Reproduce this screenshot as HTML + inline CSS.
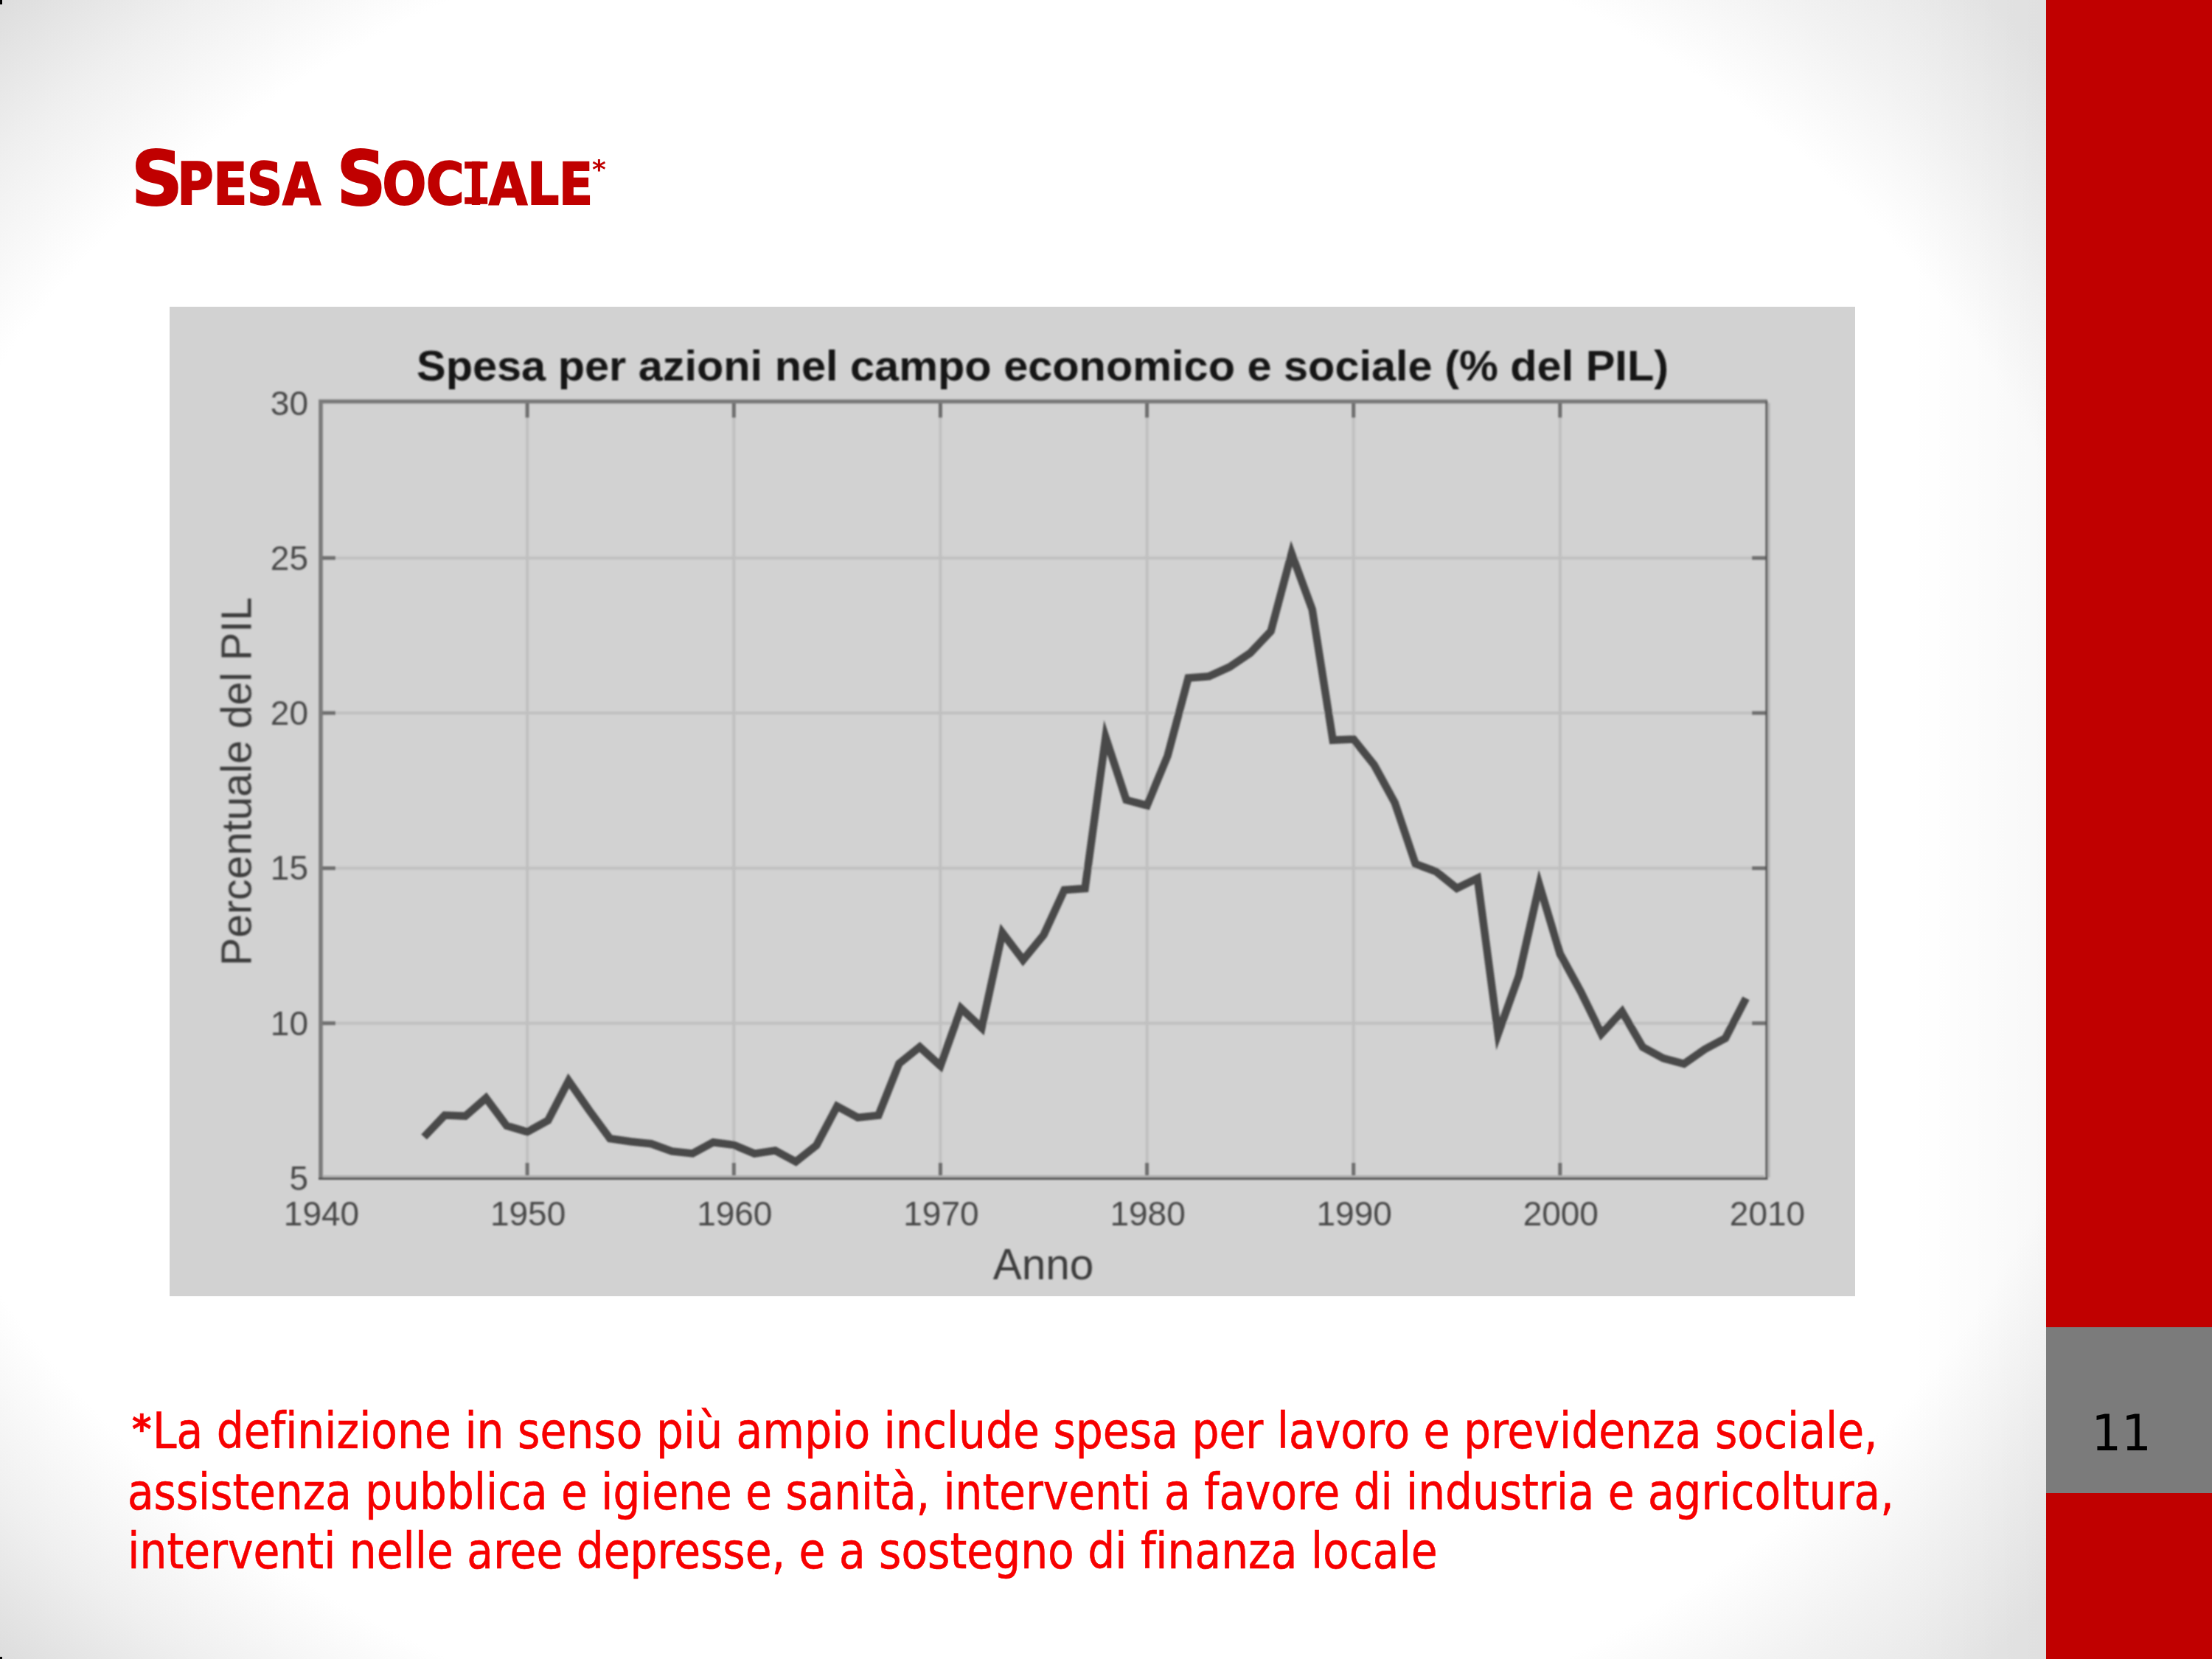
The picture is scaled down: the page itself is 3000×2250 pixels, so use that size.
<!DOCTYPE html>
<html><head><meta charset="utf-8"><title>Spesa sociale</title>
<style>
html,body{margin:0;padding:0}
body{width:3000px;height:2250px;position:relative;overflow:hidden;
background:#fff;}
.bgl{position:absolute;left:0;top:0;width:1388px;height:2250px;background:radial-gradient(ellipse 1962px 1591px at 1387.5px 1125px, #ffffff 81%, #efefef 91%, #dddddd 100%);}
.bgr{position:absolute;left:1387px;top:0;width:1388px;height:2250px;background:radial-gradient(ellipse 1850px 1591px at 0.5px 1125px, #ffffff 81%, #f2f2f2 90%, #e6e6e6 100%);}
.shd{position:absolute;left:2590px;top:0;width:185px;height:2250px;background:linear-gradient(to right, rgba(0,0,0,0), rgba(0,0,0,0.028));}
svg{position:absolute;left:0;top:0}
</style></head><body>
<div class="bgl"></div><div class="bgr"></div><div class="shd"></div>
<svg width="3000" height="2250" viewBox="0 0 3000 2250">
<defs><filter id="soft" x="-2%" y="-2%" width="104%" height="104%"><feGaussianBlur stdDeviation="0.8"/></filter></defs>
<rect x="230" y="416" width="2286" height="1342" fill="#d2d2d2"/>
<g filter="url(#soft)">
<path d="M715.1 546.5V1597M995.3 546.5V1597M1275.4 546.5V1597M1555.6 546.5V1597M1835.7 546.5V1597M2115.8 546.5V1597M435 1387.7H2396M435 1177.4H2396M435 967.1H2396M435 756.8H2396" stroke="#c0c0c0" stroke-width="4" fill="none"/>
<path d="M715.1 1597v-20M715.1 546.5v20M995.3 1597v-20M995.3 546.5v20M1275.4 1597v-20M1275.4 546.5v20M1555.6 1597v-20M1555.6 546.5v20M1835.7 1597v-20M1835.7 546.5v20M2115.8 1597v-20M2115.8 546.5v20M435 1387.7h20M2396 1387.7h-20M435 1177.4h20M2396 1177.4h-20M435 967.1h20M2396 967.1h-20M435 756.8h20M2396 756.8h-20" stroke="#6e6e6e" stroke-width="5" fill="none"/>
<path d="M435 1599V544.5H2397" stroke="#7a7a7a" stroke-width="5.5" fill="none"/>
<path d="M432 1598.5H2396V544.5" stroke="#545454" stroke-width="3" fill="none"/>
<path d="M438 1595.5H2393" stroke="#adadad" stroke-width="3" fill="none"/>
<path d="M2399 546.5V1597" stroke="#b0b0b0" stroke-width="3" fill="none"/>
<polyline points="575.1,1542.0 603.1,1512.6 631.1,1513.6 659.1,1489.2 687.1,1526.8 715.1,1535.0 743.2,1519.7 771.2,1465.8 799.2,1506.0 827.2,1544.1 855.2,1548.2 883.2,1551.2 911.2,1561.4 939.3,1564.4 967.3,1549.2 995.3,1552.8 1023.3,1564.6 1051.3,1560.4 1079.3,1575.6 1107.3,1553.3 1135.3,1500.4 1163.4,1515.6 1191.4,1512.6 1219.4,1442.4 1247.4,1420.0 1275.4,1445.5 1303.4,1367.5 1331.4,1394.0 1359.5,1265.0 1387.5,1302.0 1415.5,1268.0 1443.5,1207.0 1471.5,1205.0 1499.5,1000.0 1527.5,1085.0 1555.6,1092.4 1583.6,1024.9 1611.6,919.4 1639.6,917.3 1667.6,904.6 1695.6,885.7 1723.6,856.1 1751.7,750.6 1779.7,826.6 1807.7,1003.8 1835.7,1002.5 1863.7,1037.4 1891.7,1088.7 1919.7,1171.6 1947.8,1182.1 1975.8,1204.7 2003.8,1191.1 2031.8,1402.1 2059.8,1323.8 2087.8,1200.2 2115.8,1293.6 2143.9,1344.9 2171.9,1402.1 2199.9,1372.0 2227.9,1420.2 2255.9,1435.3 2283.9,1442.9 2311.9,1423.2 2340.0,1408.2 2368.0,1353.9" fill="none" stroke="#494949" stroke-width="10.5" stroke-linejoin="miter" stroke-miterlimit="10"/>
<g font-family="Liberation Sans, sans-serif" font-size="46" fill="#4a4a4a"><text x="418" y="1614.0" text-anchor="end">5</text><text x="418" y="1403.7" text-anchor="end">10</text><text x="418" y="1193.4" text-anchor="end">15</text><text x="418" y="983.1" text-anchor="end">20</text><text x="418" y="772.8" text-anchor="end">25</text><text x="418" y="562.5" text-anchor="end">30</text><text x="436.0" y="1662" text-anchor="middle">1940</text><text x="716.1" y="1662" text-anchor="middle">1950</text><text x="996.3" y="1662" text-anchor="middle">1960</text><text x="1276.4" y="1662" text-anchor="middle">1970</text><text x="1556.6" y="1662" text-anchor="middle">1980</text><text x="1836.7" y="1662" text-anchor="middle">1990</text><text x="2116.8" y="1662" text-anchor="middle">2000</text><text x="2397.0" y="1662" text-anchor="middle">2010</text></g>
<text x="1414" y="516" text-anchor="middle" font-family="Liberation Sans, sans-serif" font-weight="bold" font-size="57" fill="#141414" stroke="#141414" stroke-width="0" textLength="1698" lengthAdjust="spacingAndGlyphs">Spesa per azioni nel campo economico e sociale (% del PIL)</text>
<text x="1415" y="1735" text-anchor="middle" font-family="Liberation Sans, sans-serif" font-size="58.5" fill="#3c3c3c">Anno</text>
<text transform="translate(340.5 1060) rotate(-90)" text-anchor="middle" font-family="Liberation Sans, sans-serif" font-size="57.3" fill="#3c3c3c">Percentuale del PIL</text>
</g>
<g fill="#c00000" stroke="#c00000" stroke-width="2.0"><text font-weight="bold"><tspan x="178.0" y="277.5" font-family="DejaVu Sans, sans-serif" font-size="101.7" textLength="69.85" lengthAdjust="spacingAndGlyphs">S</tspan><tspan x="240.4" y="276.5" font-family="DejaVu Sans Condensed, DejaVu Sans, sans-serif" font-size="111.43" font-variant="small-caps" textLength="194.66" lengthAdjust="spacingAndGlyphs">pesa</tspan> <tspan x="456.8" y="277.5" font-family="DejaVu Sans, sans-serif" font-size="101.7" textLength="66.57" lengthAdjust="spacingAndGlyphs">S</tspan><tspan x="518.4" y="276.5" font-family="DejaVu Sans Condensed, DejaVu Sans, sans-serif" font-size="111.43" font-variant="small-caps" textLength="111.28" lengthAdjust="spacingAndGlyphs">oc</tspan><tspan x="635.8" y="276.5" font-family="DejaVu Sans Condensed, DejaVu Sans, sans-serif" font-size="111.43" font-variant="small-caps" textLength="19.53" lengthAdjust="spacingAndGlyphs">i</tspan><tspan x="663.0" y="276.5" font-family="DejaVu Sans Condensed, DejaVu Sans, sans-serif" font-size="111.43" font-variant="small-caps" textLength="141.11" lengthAdjust="spacingAndGlyphs">ale</tspan><tspan x="803" y="242" font-family="DejaVu Sans Condensed, DejaVu Sans, sans-serif" font-size="35.6" textLength="18.8" lengthAdjust="spacingAndGlyphs" stroke-width="0">*</tspan></text><rect x="630.2" y="219.2" width="31" height="9.4" stroke-width="0"/><rect x="630.2" y="267.4" width="31" height="9.4" stroke-width="0"/></g>
<g fill="#f70000" font-family="DejaVu Sans Condensed, DejaVu Sans, sans-serif" font-size="67.5" stroke="#f70000" stroke-width="0.6" style="font-variant-ligatures:none"><text y="1964"><tspan x="179" y="1957" font-size="53.9" font-weight="bold" font-family="DejaVu Sans, sans-serif" textLength="26.4" lengthAdjust="spacingAndGlyphs">*</tspan><tspan x="207" y="1964" textLength="2339.6" lengthAdjust="spacingAndGlyphs">La definizione in senso più ampio include spesa per lavoro e previdenza sociale,</tspan></text><text x="173" y="2047" textLength="2395.6" lengthAdjust="spacingAndGlyphs">assistenza pubblica e igiene e sanità, interventi a favore di industria e agricoltura,</text><text x="173.3" y="2127" textLength="1776.2" lengthAdjust="spacingAndGlyphs">interventi nelle aree depresse, e a sostegno di finanza locale</text></g>
<rect x="2775" y="0" width="225" height="2250" fill="#c00000"/>
<rect x="2775" y="1800" width="225" height="225" fill="#7b7b7b"/>
<rect x="0" y="0" width="3" height="6" fill="#000"/><rect x="0" y="2247" width="3" height="3" fill="#000"/>
<text x="2836.6" y="1967" font-family="DejaVu Sans, sans-serif" font-size="68" textLength="81.1" lengthAdjust="spacingAndGlyphs" fill="#000">11</text>
</svg>
</body></html>
